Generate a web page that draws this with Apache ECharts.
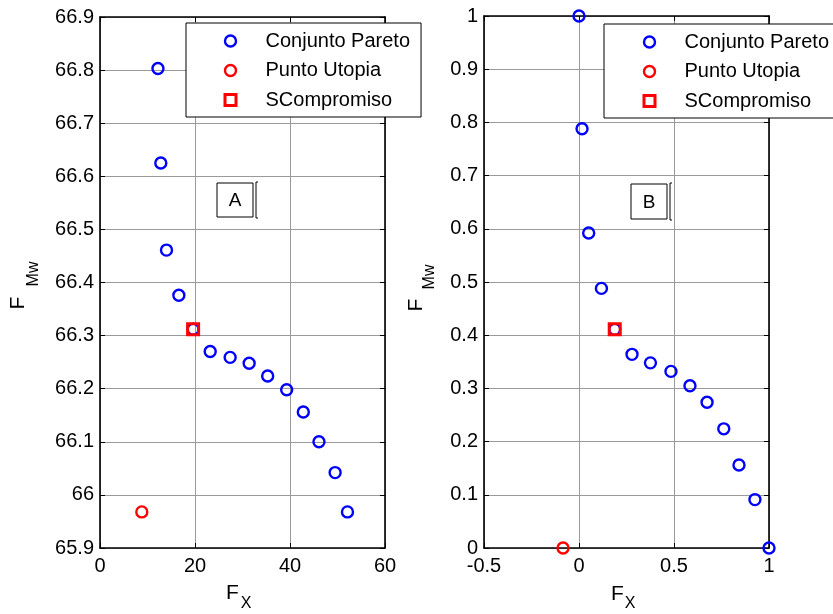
<!DOCTYPE html>
<html><head><meta charset="utf-8">
<script src="https://cdn.jsdelivr.net/npm/echarts@6/dist/echarts.min.js"></script>
<style>html,body{margin:0;padding:0;background:#fff}#c{width:833px;height:614px}</style>
</head><body><div id="c"></div>
<script>
// ---- data ----
const seriesNames = ['Conjunto Pareto', 'Punto Utopia', 'SCompromiso'];

// Panel A
const paretoAX = [12.2, 12.8, 14.0, 16.6, 19.6, 23.2, 27.4, 31.4, 35.3, 39.3, 42.8, 46.1, 49.5, 52.1];
const paretoAY = [66.803, 66.625, 66.461, 66.376, 66.312, 66.270, 66.259, 66.248, 66.224, 66.198, 66.156, 66.100, 66.042, 65.968];
const utopiaA = [8.8, 65.968];
const compromiseA = [19.6, 66.312];

// Panel B
const paretoBX = [0, 0.016, 0.051, 0.118, 0.188, 0.279, 0.376, 0.484, 0.584, 0.674, 0.762, 0.842, 0.926, 1];
const paretoBY = [1, 0.788, 0.592, 0.488, 0.411, 0.364, 0.348, 0.332, 0.305, 0.274, 0.224, 0.156, 0.091, 0];
const utopiaB = [-0.084, 0];
const compromiseB = [0.188, 0.411];

// axis ranges
const axA = {xmin: 0, xmax: 60, xint: 20, ymin: 65.9, ymax: 66.9, yint: 0.1};
const axB = {xmin: -0.5, xmax: 1, xint: 0.5, ymin: 0, ymax: 1, yint: 0.1};

const panelLabels = ['A', 'B'];

// ---- chart ----
const FONT = 'Liberation Sans, Arial, sans-serif';
const chart = echarts.init(document.getElementById('c'), null, {renderer: 'canvas'});

function zip(xs, ys) { return xs.map((x, i) => [x, ys[i]]); }

function mkAxis(kind, grid, r, main, pos) {
  const isX = kind === 'x';
  return {
    type: 'value', gridIndex: grid, position: pos,
    min: isX ? r.xmin : r.ymin, max: isX ? r.xmax : r.ymax, interval: isX ? r.xint : r.yint,
    axisLine: {show: true, onZero: false, lineStyle: {color: '#000', width: 1.6}},
    axisTick: {show: true, inside: true, length: 5, lineStyle: {color: '#000', width: 1}},
    axisLabel: {show: main, color: '#000', fontSize: 20, fontFamily: FONT, margin: isX ? 8 : 6},
    splitLine: {show: main, lineStyle: {color: '#9a9a9a', width: 1}}
  };
}

const blue = '#0000ff', red = '#ff0000';
function seriesFor(grid, px, py, uto, comp) {
  const xi = grid * 2, yi = grid * 2;
  return [
    {name: seriesNames[0], type: 'scatter', xAxisIndex: xi, yAxisIndex: yi, clip: false,
     symbol: 'circle', symbolSize: 11, z: 3,
     itemStyle: {color: 'rgba(0,0,0,0)', borderColor: blue, borderWidth: 2.4, opacity: 1},
     data: zip(px, py)},
    {name: seriesNames[1], type: 'scatter', xAxisIndex: xi, yAxisIndex: yi, clip: false,
     symbol: 'circle', symbolSize: 11, z: 3,
     itemStyle: {color: 'rgba(0,0,0,0)', borderColor: red, borderWidth: 2.4, opacity: 1},
     data: [uto]},
    {name: seriesNames[2], type: 'scatter', xAxisIndex: xi, yAxisIndex: yi, clip: false,
     symbol: 'rect', symbolSize: 11, z: 4,
     itemStyle: {color: 'rgba(0,0,0,0)', borderColor: red, borderWidth: 3, opacity: 1},
     data: [comp]}
  ];
}

function mkLegend(left, top, padLeft) {
  return {
    left: left, top: top, orient: 'vertical', selectedMode: false,
    padding: [8, 11, 7, padLeft], itemGap: 9.5, itemWidth: 11, itemHeight: 11,
    borderColor: '#000', borderWidth: 1, backgroundColor: '#fff', borderRadius: 0,
    textStyle: {fontSize: 20, fontFamily: FONT, color: '#000', padding: [0, 0, 0, 24.5]},
    itemStyle: {borderWidth: 2.4, opacity: 1},
    data: [
      seriesNames[0],
      seriesNames[1],
      {name: seriesNames[2], itemStyle: {borderWidth: 3, opacity: 1}}
    ],
    z: 10
  };
}

function rtext(x, y, t, size, rot) {
  return {type: 'text', x: x, y: y, rotation: rot ? Math.PI / 2 : 0, z: 20,
    style: {text: t, fontSize: size, fontFamily: FONT, fill: '#000', align: 'center', verticalAlign: 'middle'}};
}
function box(x, y, w, h, label) {
  return [
    {type: 'rect', shape: {x: x, y: y, width: w, height: h}, z: 20,
     style: {fill: '#fff', stroke: '#000', lineWidth: 1}},
    {type: 'polyline', shape: {points: [[x + w + 5, y - 1], [x + w + 3, y - 1], [x + w + 3, y + h + 1], [x + w + 5, y + h + 1]]}, z: 20,
     style: {fill: null, stroke: '#000', lineWidth: 1}},
    rtext(x + w / 2, y + h / 2 + 1, label, 19, false)
  ];
}

const option = {
  backgroundColor: '#fff',
  animation: false,
  textStyle: {fontFamily: FONT},
  grid: [
    {left: 100, top: 17, width: 285, height: 531},
    {left: 484, top: 16, width: 285, height: 532}
  ],
  xAxis: [
    mkAxis('x', 0, axA, true, 'bottom'), mkAxis('x', 0, axA, false, 'top'),
    mkAxis('x', 1, axB, true, 'bottom'), mkAxis('x', 1, axB, false, 'top')
  ],
  yAxis: [
    mkAxis('y', 0, axA, true, 'left'), mkAxis('y', 0, axA, false, 'right'),
    mkAxis('y', 1, axB, true, 'left'), mkAxis('y', 1, axB, false, 'right')
  ],
  legend: [mkLegend(186, 23, 37.5), mkLegend(604, 24, 38.5)],
  series: [
    ...seriesFor(0, paretoAX, paretoAY, utopiaA, compromiseA),
    ...seriesFor(1, paretoBX, paretoBY, utopiaB, compromiseB)
  ],
  graphic: [
    // y-axis names
    rtext(18, 303, 'F', 21, true), rtext(34, 274, 'Mw', 16, true),
    rtext(416, 305, 'F', 21, true), rtext(430, 277, 'Mw', 16, true),
    // x-axis names
    rtext(232.5, 593.5, 'F', 21, false), rtext(246, 603.5, 'X', 16, false),
    rtext(617.5, 594.5, 'F', 21, false), rtext(630, 604, 'X', 16, false),
    ...box(217, 183, 36, 34, panelLabels[0]),
    ...box(631, 184, 36, 35, panelLabels[1])
  ]
};
chart.setOption(option);
</script>
</body></html>
